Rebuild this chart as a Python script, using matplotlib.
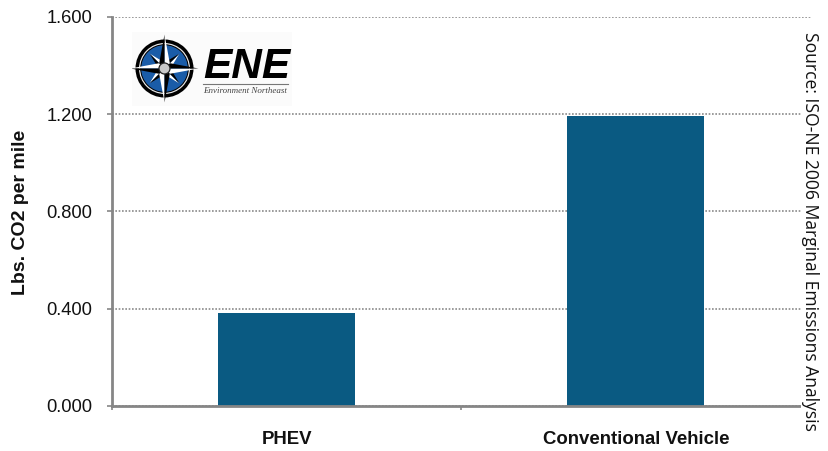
import numpy as np
import matplotlib
matplotlib.use("Agg")
import matplotlib.pyplot as plt
from matplotlib.patches import Circle, Polygon, Rectangle

categories = ["PHEV", "Conventional Vehicle"]
emissions = [0.382, 1.193]
y_ticks = [0.0, 0.4, 0.8, 1.2, 1.6]

W, H = 829, 451
GREY = "#868686"
BAR = "#0A5A82"
plt.rcParams["font.family"] = ["Liberation Sans", "DejaVu Sans"]


def px_box(x0, y0, x1, y1):
    """Axes rectangle from pixel edges measured from the top-left corner."""
    return [x0 / W, 1 - y1 / H, (x1 - x0) / W, (y1 - y0) / H]


fig = plt.figure(figsize=(W / 100, H / 100), dpi=100, facecolor="white")
ax = fig.add_axes(px_box(112, 17, 811, 405.7))

positions = np.arange(len(categories))
ax.bar(positions - 0.002, emissions, width=0.392, color=BAR, edgecolor="none", zorder=2)
ax.set_xlim(-0.5, 1.5)
ax.set_ylim(0, 1.6)

ax.set_yticks(y_ticks)
ax.set_yticklabels([f"{t:.3f}" for t in y_ticks], fontsize=13.2, color="#111111")
ax.yaxis.grid(True, color="#8a8a8a", linestyle=(0, (1, 1)), linewidth=1.2, zorder=1)
ax.set_axisbelow(True)
ax.tick_params(axis="y", length=3.6, width=1.2, color=GREY, pad=10.5)

# Category boundaries carry the ticks; names sit centred under each bar.
ax.set_xticks([-0.5, 0.5, 1.5])
ax.set_xticklabels([])
ax.tick_params(axis="x", direction="out", length=3, width=1.2, color=GREY)
for pos, name in zip(positions, categories):
    ax.annotate(name, xy=(pos, 0), xycoords=("data", "axes fraction"),
                xytext=(0, -34), textcoords="offset pixels",
                ha="center", va="center", fontsize=13.4, fontweight="bold", color="#111111")

for side in ("top", "right"):
    ax.spines[side].set_visible(False)
for side in ("left", "bottom"):
    ax.spines[side].set_color(GREY)
    ax.spines[side].set_linewidth(2.0)

fig.text(21 / W, 1 - 212.5 / H, "Lbs. CO2 per mile", rotation=90, ha="center", va="center",
         fontsize=14, fontweight="bold", color="#111111")
fig.text(810 / W, 1 - 231.5 / H, "Source: ISO-NE 2006 Marginal Emissions Analysis",
         rotation=270, ha="center", va="center", fontsize=12.65,
         family=["Open Sans", "DejaVu Sans"], color="#111111", zorder=5,
         bbox=dict(facecolor="white", edgecolor="none", pad=0))

# Organisation logo: compass rose plus wordmark, on its own pixel-scaled axes.
logo = fig.add_axes(px_box(132, 32, 292, 106), zorder=4)
logo.set_xlim(132, 292)
logo.set_ylim(106, 32)
logo.axis("off")
logo.add_patch(Rectangle((132, 32), 160, 74, facecolor="#FBFBFB", edgecolor="none"))

cx, cy = 164.5, 68.5
logo.add_patch(Circle((cx, cy), 29, facecolor="black", edgecolor="none"))
logo.add_patch(Circle((cx, cy), 25.5, facecolor="#E8E8E8", edgecolor="none"))
logo.add_patch(Circle((cx, cy), 24.3, facecolor="black", edgecolor="none"))
logo.add_patch(Circle((cx, cy), 23.3, facecolor="#1A5CA8", edgecolor="none"))


def star(n_angle, reach, waist):
    """Four split points of the rose, each half white and half black."""
    for k in range(4):
        a = n_angle + k * np.pi / 2
        tip = (cx + reach * np.cos(a), cy + reach * np.sin(a))
        left = (cx + waist * np.cos(a + np.pi / 4), cy + waist * np.sin(a + np.pi / 4))
        right = (cx + waist * np.cos(a - np.pi / 4), cy + waist * np.sin(a - np.pi / 4))
        logo.add_patch(Polygon([(cx, cy), tip, left], facecolor="white", edgecolor="none"))
        logo.add_patch(Polygon([(cx, cy), tip, right], facecolor="black", edgecolor="none"))


star(np.pi / 4, 21, 6)
star(0, 34, 7.5)
logo.add_patch(Circle((cx, cy), 5.5, facecolor="#C9C9C9", edgecolor="#222222", linewidth=0.9))

logo.text(203, 67, "ENE", fontsize=30.5, fontweight="bold", fontstyle="italic",
          ha="left", va="center", color="black", family="Liberation Sans")
logo.plot([203, 288], [84, 84], color="#777777", linewidth=0.8)
logo.text(203, 91, "Environment Northeast", fontsize=6.5, fontstyle="italic",
          ha="left", va="center", color="#444444", family="Liberation Serif")

fig.savefig("out.png", dpi=100, facecolor="white")
